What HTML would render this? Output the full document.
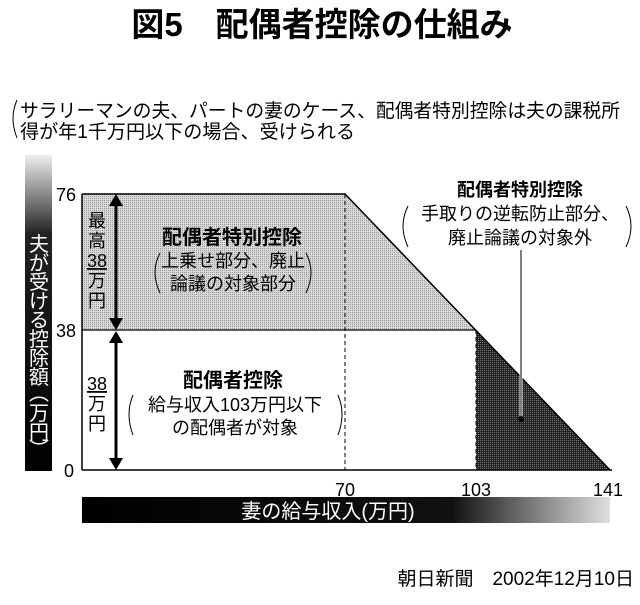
<!DOCTYPE html>
<html><head><meta charset="utf-8"><style>
body{margin:0;background:#fff;width:640px;height:600px;overflow:hidden;font-family:"Liberation Sans","Noto Sans CJK JP",sans-serif;}
</style></head><body>
<svg width="640" height="600" xmlns="http://www.w3.org/2000/svg" style="font-family:'Liberation Sans','Noto Sans CJK JP',sans-serif">
<defs>
<pattern id="dots" width="2" height="2" patternUnits="userSpaceOnUse"><rect width="2" height="2" fill="#d8d8d8"/><rect width="1" height="1" fill="#999"/></pattern>
<pattern id="dark" width="2" height="2" patternUnits="userSpaceOnUse"><rect width="2" height="2" fill="#222"/><rect width="1" height="1" fill="#777"/></pattern>
<linearGradient id="gy" x1="0" y1="0" x2="0" y2="1"><stop offset="0" stop-color="#eee"/><stop offset="0.25" stop-color="#222"/><stop offset="1" stop-color="#000"/></linearGradient>
<linearGradient id="gx" x1="0" y1="0" x2="1" y2="0"><stop offset="0" stop-color="#000"/><stop offset="0.7" stop-color="#111"/><stop offset="1" stop-color="#e0e0e0"/></linearGradient>
</defs>
<text x="322" y="36" text-anchor="middle" font-size="33" font-weight="bold">図5　配偶者控除の仕組み</text>
<text x="20" y="117" font-size="19" textLength="600" lengthAdjust="spacingAndGlyphs">サラリーマンの夫、パートの妻のケース、配偶者特別控除は夫の課税所</text>
<text x="20" y="138" font-size="19" textLength="335" lengthAdjust="spacingAndGlyphs">得が年1千万円以下の場合、受けられる</text>
<path d="M17,100 Q9,118 17,138" fill="none" stroke="#000"/>
<rect x="25" y="155" width="27" height="316" fill="url(#gy)"/>
<g font-size="20" fill="#fff" text-anchor="middle">
<text x="39" y="251">夫</text><text x="39" y="270">が</text><text x="39" y="289">受</text><text x="39" y="308">け</text><text x="39" y="327">る</text><text x="39" y="346">控</text><text x="39" y="365">除</text><text x="39" y="384">額</text>
<text x="39" y="400">︵</text><text x="39" y="420">万</text><text x="39" y="439">円</text><text x="39" y="456">︶</text>
</g>
<polygon points="82,194 345,194 476,330 82,330" fill="url(#dots)"/>
<polygon points="476,330 610,470 476,470" fill="url(#dark)"/>
<polyline points="82,194 345,194 610,470" fill="none" stroke="#000" stroke-width="1.5"/>
<line x1="82" y1="330" x2="476" y2="330" stroke="#000" stroke-width="1.2"/>
<line x1="82" y1="194" x2="82" y2="470" stroke="#000" stroke-width="1.5"/>
<line x1="82" y1="470" x2="612" y2="470" stroke="#000" stroke-width="1.5"/>
<line x1="345" y1="194" x2="345" y2="470" stroke="#000" stroke-dasharray="4,3"/>
<line x1="476" y1="330" x2="476" y2="470" stroke="#000" stroke-dasharray="4,3"/>
<text x="56" y="201" font-size="18">76</text>
<text x="56" y="337" font-size="18">38</text>
<text x="64" y="477" font-size="18">0</text>
<text x="345" y="496" font-size="18" text-anchor="middle">70</text>
<text x="476" y="496" font-size="18" text-anchor="middle">103</text>
<text x="608" y="496" font-size="18" text-anchor="middle">141</text>
<rect x="82" y="497" width="528" height="26" fill="url(#gx)"/>
<text x="328" y="518" font-size="20" fill="#fff" text-anchor="middle">妻の給与収入(万円)</text>
<line x1="116" y1="204" x2="116" y2="320" stroke="#000" stroke-width="3"/>
<polygon points="116,194 109,206 123,206" fill="#000"/>
<polygon points="116,330 109,318 123,318" fill="#000"/>
<line x1="116" y1="340" x2="116" y2="460" stroke="#000" stroke-width="3"/>
<polygon points="116,331 109,343 123,343" fill="#000"/>
<polygon points="116,470 109,458 123,458" fill="#000"/>
<g font-size="18" text-anchor="middle">
<text x="97" y="227">最</text><text x="97" y="247">高</text><text x="97" y="267" text-decoration="underline">38</text><text x="97" y="287">万</text><text x="97" y="307">円</text>
<text x="97" y="390" text-decoration="underline">38</text><text x="97" y="410">万</text><text x="97" y="430">円</text>
<text x="232" y="244" font-weight="bold" font-size="20">配偶者特別控除</text>
<text x="233" y="267">上乗せ部分、廃止</text>
<text x="233" y="290">論議の対象部分</text>
<text x="233" y="387" font-weight="bold" font-size="20">配偶者控除</text>
<text x="235" y="411">給与収入103万円以下</text>
<text x="235" y="434">の配偶者が対象</text>
<text x="520" y="196" font-weight="bold">配偶者特別控除</text>
<text x="520" y="220">手取りの逆転防止部分、</text>
<text x="520" y="244">廃止論議の対象外</text>
</g>
<g fill="none" stroke="#000" stroke-width="1">
<path d="M160,253 Q150,272 160,293"/><path d="M306,253 Q316,272 306,293"/>
<path d="M133,395 Q125,414 133,435"/><path d="M338,395 Q346,414 338,435"/>
<path d="M408,206 Q398,226 408,247"/><path d="M626,206 Q636,226 626,247"/>
</g>
<line x1="521" y1="250" x2="521" y2="418" stroke="#000" stroke-width="1"/>
<line x1="521" y1="340" x2="521" y2="418" stroke="#fff" stroke-width="3"/>
<line x1="521" y1="340" x2="521" y2="418" stroke="#000" stroke-width="1"/>
<circle cx="521" cy="419" r="3" fill="#000"/>
<text x="634" y="585" font-size="19" text-anchor="end">朝日新聞　2002年12月10日</text>
</svg>
</body></html>
